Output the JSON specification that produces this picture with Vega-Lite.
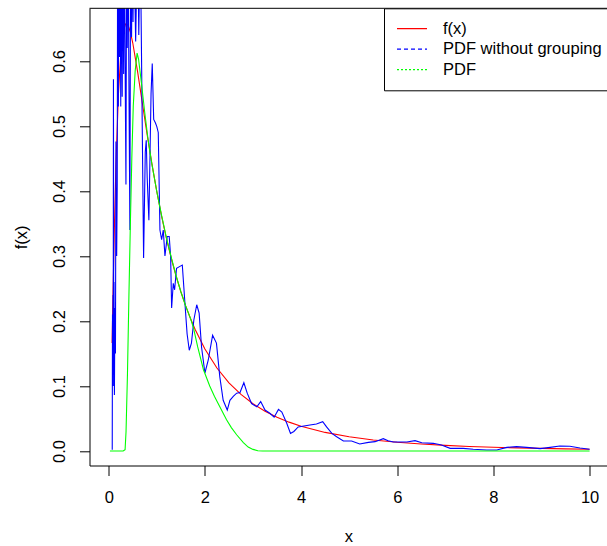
{
  "$schema": "https://vega.github.io/schema/vega-lite/v6.json",
  "width": 517.5,
  "height": 457.2,
  "autosize": {"type": "none"},
  "padding": {"left": 89.5, "top": 8.3, "right": 0, "bottom": 80.5},
  "background": "white",
  "config": {
    "view": {"stroke": null},
    "font": "Liberation Sans",
    "axis": {
      "grid": false,
      "domainColor": "black",
      "domainWidth": 1,
      "tickColor": "black",
      "tickWidth": 1,
      "tickSize": 10,
      "labelColor": "black",
      "titleColor": "black",
      "labelFont": "Liberation Sans",
      "titleFont": "Liberation Sans",
      "labelFontSize": 16.5,
      "titleFontSize": 16.5,
      "titleFontWeight": "normal",
      "labelFlush": false,
      "labelOverlap": false
    }
  },
  "layer": [
    {
      "data": {
        "values": [
          {"x": 0.07, "y": 0.166, "s": "f(x)"},
          {"x": 0.08, "y": 0.2053, "s": "f(x)"},
          {"x": 0.1, "y": 0.2817, "s": "f(x)"},
          {"x": 0.12, "y": 0.3511, "s": "f(x)"},
          {"x": 0.15, "y": 0.44, "s": "f(x)"},
          {"x": 0.2, "y": 0.5464, "s": "f(x)"},
          {"x": 0.25, "y": 0.6105, "s": "f(x)"},
          {"x": 0.3, "y": 0.6442, "s": "f(x)"},
          {"x": 0.35, "y": 0.6569, "s": "f(x)"},
          {"x": 0.4, "y": 0.6553, "s": "f(x)"},
          {"x": 0.45, "y": 0.6446, "s": "f(x)"},
          {"x": 0.5, "y": 0.6276, "s": "f(x)"},
          {"x": 0.6, "y": 0.5836, "s": "f(x)"},
          {"x": 0.7, "y": 0.5348, "s": "f(x)"},
          {"x": 0.8, "y": 0.4864, "s": "f(x)"},
          {"x": 0.9, "y": 0.4408, "s": "f(x)"},
          {"x": 1.0, "y": 0.3989, "s": "f(x)"},
          {"x": 1.1, "y": 0.361, "s": "f(x)"},
          {"x": 1.2, "y": 0.3269, "s": "f(x)"},
          {"x": 1.3, "y": 0.2965, "s": "f(x)"},
          {"x": 1.4, "y": 0.2692, "s": "f(x)"},
          {"x": 1.5, "y": 0.245, "s": "f(x)"},
          {"x": 1.6, "y": 0.2232, "s": "f(x)"},
          {"x": 1.7, "y": 0.2039, "s": "f(x)"},
          {"x": 1.8, "y": 0.1865, "s": "f(x)"},
          {"x": 2.0, "y": 0.1569, "s": "f(x)"},
          {"x": 2.25, "y": 0.1276, "s": "f(x)"},
          {"x": 2.5, "y": 0.1049, "s": "f(x)"},
          {"x": 2.75, "y": 0.087, "s": "f(x)"},
          {"x": 3.0, "y": 0.0727, "s": "f(x)"},
          {"x": 3.25, "y": 0.0613, "s": "f(x)"},
          {"x": 3.5, "y": 0.052, "s": "f(x)"},
          {"x": 3.75, "y": 0.0444, "s": "f(x)"},
          {"x": 4.0, "y": 0.0381, "s": "f(x)"},
          {"x": 4.5, "y": 0.0286, "s": "f(x)"},
          {"x": 5.0, "y": 0.0219, "s": "f(x)"},
          {"x": 5.5, "y": 0.017, "s": "f(x)"},
          {"x": 6.0, "y": 0.0134, "s": "f(x)"},
          {"x": 6.5, "y": 0.0107, "s": "f(x)"},
          {"x": 7.0, "y": 0.0086, "s": "f(x)"},
          {"x": 7.5, "y": 0.007, "s": "f(x)"},
          {"x": 8.0, "y": 0.0057, "s": "f(x)"},
          {"x": 8.5, "y": 0.0048, "s": "f(x)"},
          {"x": 9.0, "y": 0.004, "s": "f(x)"},
          {"x": 9.5, "y": 0.0033, "s": "f(x)"},
          {"x": 10.0, "y": 0.0028, "s": "f(x)"},

          {"x": 0.073, "y": 0.002, "s": "PDF without grouping"},
          {"x": 0.078, "y": 0.21, "s": "PDF without grouping"},
          {"x": 0.083, "y": 0.12, "s": "PDF without grouping"},
          {"x": 0.088, "y": 0.24, "s": "PDF without grouping"},
          {"x": 0.093, "y": 0.1, "s": "PDF without grouping"},
          {"x": 0.098, "y": 0.572, "s": "PDF without grouping"},
          {"x": 0.104, "y": 0.15, "s": "PDF without grouping"},
          {"x": 0.11, "y": 0.26, "s": "PDF without grouping"},
          {"x": 0.118, "y": 0.086, "s": "PDF without grouping"},
          {"x": 0.128, "y": 0.22, "s": "PDF without grouping"},
          {"x": 0.14, "y": 0.15, "s": "PDF without grouping"},
          {"x": 0.15, "y": 0.476, "s": "PDF without grouping"},
          {"x": 0.155, "y": 0.366, "s": "PDF without grouping"},
          {"x": 0.165, "y": 0.3, "s": "PDF without grouping"},
          {"x": 0.177, "y": 0.41, "s": "PDF without grouping"},
          {"x": 0.185, "y": 0.8, "s": "PDF without grouping"},
          {"x": 0.2, "y": 0.53, "s": "PDF without grouping"},
          {"x": 0.21, "y": 0.8, "s": "PDF without grouping"},
          {"x": 0.226, "y": 0.606, "s": "PDF without grouping"},
          {"x": 0.236, "y": 0.8, "s": "PDF without grouping"},
          {"x": 0.25, "y": 0.53, "s": "PDF without grouping"},
          {"x": 0.262, "y": 0.8, "s": "PDF without grouping"},
          {"x": 0.28, "y": 0.545, "s": "PDF without grouping"},
          {"x": 0.295, "y": 0.8, "s": "PDF without grouping"},
          {"x": 0.31, "y": 0.58, "s": "PDF without grouping"},
          {"x": 0.322, "y": 0.8, "s": "PDF without grouping"},
          {"x": 0.358, "y": 0.41, "s": "PDF without grouping"},
          {"x": 0.372, "y": 0.8, "s": "PDF without grouping"},
          {"x": 0.385, "y": 0.62, "s": "PDF without grouping"},
          {"x": 0.4, "y": 0.8, "s": "PDF without grouping"},
          {"x": 0.44, "y": 0.34, "s": "PDF without grouping"},
          {"x": 0.455, "y": 0.8, "s": "PDF without grouping"},
          {"x": 0.475, "y": 0.637, "s": "PDF without grouping"},
          {"x": 0.49, "y": 0.8, "s": "PDF without grouping"},
          {"x": 0.505, "y": 0.66, "s": "PDF without grouping"},
          {"x": 0.52, "y": 0.8, "s": "PDF without grouping"},
          {"x": 0.56, "y": 0.63, "s": "PDF without grouping"},
          {"x": 0.6, "y": 0.8, "s": "PDF without grouping"},
          {"x": 0.625, "y": 0.64, "s": "PDF without grouping"},
          {"x": 0.655, "y": 0.8, "s": "PDF without grouping"},
          {"x": 0.725, "y": 0.297, "s": "PDF without grouping"},
          {"x": 0.76, "y": 0.46, "s": "PDF without grouping"},
          {"x": 0.78, "y": 0.478, "s": "PDF without grouping"},
          {"x": 0.8, "y": 0.42, "s": "PDF without grouping"},
          {"x": 0.835, "y": 0.355, "s": "PDF without grouping"},
          {"x": 0.88, "y": 0.55, "s": "PDF without grouping"},
          {"x": 0.905, "y": 0.596, "s": "PDF without grouping"},
          {"x": 0.935, "y": 0.51, "s": "PDF without grouping"},
          {"x": 0.97, "y": 0.505, "s": "PDF without grouping"},
          {"x": 1.0, "y": 0.499, "s": "PDF without grouping"},
          {"x": 1.03, "y": 0.49, "s": "PDF without grouping"},
          {"x": 1.065, "y": 0.34, "s": "PDF without grouping"},
          {"x": 1.1, "y": 0.325, "s": "PDF without grouping"},
          {"x": 1.134, "y": 0.34, "s": "PDF without grouping"},
          {"x": 1.169, "y": 0.3, "s": "PDF without grouping"},
          {"x": 1.217, "y": 0.33, "s": "PDF without grouping"},
          {"x": 1.258, "y": 0.33, "s": "PDF without grouping"},
          {"x": 1.287, "y": 0.3, "s": "PDF without grouping"},
          {"x": 1.308, "y": 0.22, "s": "PDF without grouping"},
          {"x": 1.342, "y": 0.258, "s": "PDF without grouping"},
          {"x": 1.37, "y": 0.248, "s": "PDF without grouping"},
          {"x": 1.41, "y": 0.281, "s": "PDF without grouping"},
          {"x": 1.48, "y": 0.284, "s": "PDF without grouping"},
          {"x": 1.53, "y": 0.286, "s": "PDF without grouping"},
          {"x": 1.585, "y": 0.227, "s": "PDF without grouping"},
          {"x": 1.63, "y": 0.18, "s": "PDF without grouping"},
          {"x": 1.675, "y": 0.155, "s": "PDF without grouping"},
          {"x": 1.72, "y": 0.166, "s": "PDF without grouping"},
          {"x": 1.77, "y": 0.2015, "s": "PDF without grouping"},
          {"x": 1.83, "y": 0.225, "s": "PDF without grouping"},
          {"x": 1.88, "y": 0.212, "s": "PDF without grouping"},
          {"x": 1.93, "y": 0.16, "s": "PDF without grouping"},
          {"x": 2.0, "y": 0.12, "s": "PDF without grouping"},
          {"x": 2.07, "y": 0.14, "s": "PDF without grouping"},
          {"x": 2.16, "y": 0.178, "s": "PDF without grouping"},
          {"x": 2.24, "y": 0.166, "s": "PDF without grouping"},
          {"x": 2.31, "y": 0.114, "s": "PDF without grouping"},
          {"x": 2.38, "y": 0.078, "s": "PDF without grouping"},
          {"x": 2.465, "y": 0.063, "s": "PDF without grouping"},
          {"x": 2.52, "y": 0.078, "s": "PDF without grouping"},
          {"x": 2.59, "y": 0.084, "s": "PDF without grouping"},
          {"x": 2.66, "y": 0.089, "s": "PDF without grouping"},
          {"x": 2.73, "y": 0.09, "s": "PDF without grouping"},
          {"x": 2.81, "y": 0.105, "s": "PDF without grouping"},
          {"x": 2.88, "y": 0.089, "s": "PDF without grouping"},
          {"x": 2.97, "y": 0.073, "s": "PDF without grouping"},
          {"x": 3.08, "y": 0.068, "s": "PDF without grouping"},
          {"x": 3.16, "y": 0.076, "s": "PDF without grouping"},
          {"x": 3.25, "y": 0.063, "s": "PDF without grouping"},
          {"x": 3.35, "y": 0.058, "s": "PDF without grouping"},
          {"x": 3.44, "y": 0.052, "s": "PDF without grouping"},
          {"x": 3.53, "y": 0.064, "s": "PDF without grouping"},
          {"x": 3.6, "y": 0.06, "s": "PDF without grouping"},
          {"x": 3.7, "y": 0.043, "s": "PDF without grouping"},
          {"x": 3.78, "y": 0.027, "s": "PDF without grouping"},
          {"x": 3.85, "y": 0.03, "s": "PDF without grouping"},
          {"x": 3.94, "y": 0.037, "s": "PDF without grouping"},
          {"x": 4.185, "y": 0.04, "s": "PDF without grouping"},
          {"x": 4.32, "y": 0.0415, "s": "PDF without grouping"},
          {"x": 4.45, "y": 0.045, "s": "PDF without grouping"},
          {"x": 4.53, "y": 0.037, "s": "PDF without grouping"},
          {"x": 4.64, "y": 0.027, "s": "PDF without grouping"},
          {"x": 4.74, "y": 0.022, "s": "PDF without grouping"},
          {"x": 4.88, "y": 0.0154, "s": "PDF without grouping"},
          {"x": 5.05, "y": 0.0154, "s": "PDF without grouping"},
          {"x": 5.22, "y": 0.0108, "s": "PDF without grouping"},
          {"x": 5.4, "y": 0.0133, "s": "PDF without grouping"},
          {"x": 5.54, "y": 0.0144, "s": "PDF without grouping"},
          {"x": 5.71, "y": 0.019, "s": "PDF without grouping"},
          {"x": 5.81, "y": 0.0159, "s": "PDF without grouping"},
          {"x": 5.92, "y": 0.0138, "s": "PDF without grouping"},
          {"x": 6.2, "y": 0.0138, "s": "PDF without grouping"},
          {"x": 6.37, "y": 0.0159, "s": "PDF without grouping"},
          {"x": 6.51, "y": 0.0128, "s": "PDF without grouping"},
          {"x": 6.75, "y": 0.0118, "s": "PDF without grouping"},
          {"x": 6.92, "y": 0.0092, "s": "PDF without grouping"},
          {"x": 7.1, "y": 0.0041, "s": "PDF without grouping"},
          {"x": 7.37, "y": 0.0041, "s": "PDF without grouping"},
          {"x": 7.58, "y": 0.0026, "s": "PDF without grouping"},
          {"x": 7.86, "y": 0.0015, "s": "PDF without grouping"},
          {"x": 8.07, "y": 0.0015, "s": "PDF without grouping"},
          {"x": 8.28, "y": 0.0056, "s": "PDF without grouping"},
          {"x": 8.48, "y": 0.0067, "s": "PDF without grouping"},
          {"x": 8.69, "y": 0.0056, "s": "PDF without grouping"},
          {"x": 8.97, "y": 0.0036, "s": "PDF without grouping"},
          {"x": 9.18, "y": 0.0056, "s": "PDF without grouping"},
          {"x": 9.38, "y": 0.0077, "s": "PDF without grouping"},
          {"x": 9.59, "y": 0.0072, "s": "PDF without grouping"},
          {"x": 9.8, "y": 0.0046, "s": "PDF without grouping"},
          {"x": 10.0, "y": 0.0026, "s": "PDF without grouping"},

          {"x": 0.025, "y": 0, "s": "PDF"},
          {"x": 0.1, "y": 0, "s": "PDF"},
          {"x": 0.2, "y": 0, "s": "PDF"},
          {"x": 0.3, "y": 0, "s": "PDF"},
          {"x": 0.34, "y": 0.002, "s": "PDF"},
          {"x": 0.36, "y": 0.03, "s": "PDF"},
          {"x": 0.39, "y": 0.12, "s": "PDF"},
          {"x": 0.42, "y": 0.24, "s": "PDF"},
          {"x": 0.45, "y": 0.35, "s": "PDF"},
          {"x": 0.48, "y": 0.45, "s": "PDF"},
          {"x": 0.51, "y": 0.53, "s": "PDF"},
          {"x": 0.55, "y": 0.585, "s": "PDF"},
          {"x": 0.59, "y": 0.612, "s": "PDF"},
          {"x": 0.62, "y": 0.603, "s": "PDF"},
          {"x": 0.68, "y": 0.566, "s": "PDF"},
          {"x": 0.75, "y": 0.52, "s": "PDF"},
          {"x": 0.82, "y": 0.478, "s": "PDF"},
          {"x": 0.9, "y": 0.44, "s": "PDF"},
          {"x": 1.0, "y": 0.399, "s": "PDF"},
          {"x": 1.1, "y": 0.362, "s": "PDF"},
          {"x": 1.2, "y": 0.328, "s": "PDF"},
          {"x": 1.3, "y": 0.298, "s": "PDF"},
          {"x": 1.4, "y": 0.27, "s": "PDF"},
          {"x": 1.5, "y": 0.245, "s": "PDF"},
          {"x": 1.6, "y": 0.223, "s": "PDF"},
          {"x": 1.7, "y": 0.204, "s": "PDF"},
          {"x": 1.76, "y": 0.19, "s": "PDF"},
          {"x": 1.85, "y": 0.16, "s": "PDF"},
          {"x": 1.97, "y": 0.125, "s": "PDF"},
          {"x": 2.1, "y": 0.1, "s": "PDF"},
          {"x": 2.2, "y": 0.084, "s": "PDF"},
          {"x": 2.31, "y": 0.068, "s": "PDF"},
          {"x": 2.45, "y": 0.048, "s": "PDF"},
          {"x": 2.55, "y": 0.036, "s": "PDF"},
          {"x": 2.66, "y": 0.025, "s": "PDF"},
          {"x": 2.8, "y": 0.013, "s": "PDF"},
          {"x": 2.9, "y": 0.006, "s": "PDF"},
          {"x": 3.0, "y": 0.0025, "s": "PDF"},
          {"x": 3.1, "y": 0.0005, "s": "PDF"},
          {"x": 3.2, "y": 0, "s": "PDF"},
          {"x": 10.0, "y": 0, "s": "PDF"}
        ]
      },
      "mark": {"type": "line", "clip": true, "strokeWidth": 1.1},
      "encoding": {
        "x": {
          "field": "x",
          "type": "quantitative",
          "scale": {"domain": [-0.4, 10.362], "nice": false, "zero": false},
          "axis": {
            "title": "x",
            "values": [0, 2, 4, 6, 8, 10],
            "format": "d",
            "labelBaseline": "alphabetic",
            "labelPadding": 26.5,
            "titleY": 75.5,
            "titleBaseline": "alphabetic"
          }
        },
        "y": {
          "field": "y",
          "type": "quantitative",
          "scale": {"domain": [-0.0223, 0.681], "nice": false, "zero": false},
          "axis": {
            "title": "f(x)",
            "values": [0, 0.1, 0.2, 0.3, 0.4, 0.5, 0.6],
            "format": ".1f",
            "labelAngle": 270,
            "labelAlign": "center",
            "labelBaseline": "alphabetic",
            "labelPadding": 15.5,
            "titleAngle": 270,
            "titleAlign": "center",
            "titleBaseline": "alphabetic",
            "titleX": -63.5,
            "titleY": 228.6
          }
        },
        "color": {
          "field": "s",
          "type": "nominal",
          "scale": {
            "domain": ["f(x)", "PDF without grouping", "PDF"],
            "range": ["#FF0000", "#0000FF", "#00FF00"]
          },
          "legend": {
            "title": null,
            "orient": "none",
            "legendX": 294.5,
            "legendY": 0,
            "symbolType": "stroke",
            "symbolSize": 900,
            "symbolStrokeWidth": 1.3,
            "labelFont": "Liberation Sans",
            "labelFontSize": 16.5,
            "labelColor": "black",
            "labelLimit": 400,
            "labelOffset": 15,
            "padding": 12,
            "rowPadding": 3.5,
            "strokeColor": "black",
            "fillColor": "white",
            "clipHeight": 16.5,
            "encode": {
              "symbols": {
                "update": {
                  "strokeDash": {"signal": "datum.value === 'PDF' ? [2, 2] : datum.value === 'PDF without grouping' ? [4, 3] : [1, 0]"}
                }
              }
            }
          }
        }
      }
    },
    {
      "data": {"values": [{}]},
      "mark": {"type": "rule", "color": "black", "strokeWidth": 1},
      "encoding": {"y": {"datum": 0.681}}
    }
  ]
}
